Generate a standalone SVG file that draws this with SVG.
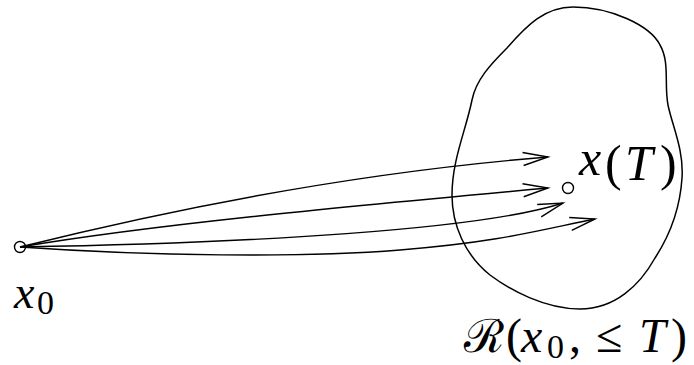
<svg xmlns="http://www.w3.org/2000/svg" width="694" height="365" viewBox="0 0 694 365">
<style>
.ln{fill:none;stroke:#000;stroke-width:1.4}
.blob{fill:none;stroke:#000;stroke-width:1.5}
.pt{fill:none;stroke:#000;stroke-width:1.4}
.t{font-family:"Liberation Serif","Times New Roman",serif;fill:#000}
.i{font-style:italic}
</style>
<defs>
<marker id="ah" markerUnits="userSpaceOnUse" markerWidth="30" markerHeight="16" refX="25" refY="8" orient="auto" overflow="visible">
<path d="M0,1.5 L25,8 L0,14.5" fill="none" stroke="#000" stroke-width="1.4"/>
</marker>
</defs>
<rect width="694" height="365" fill="#fff"/>
<g id="reachable-set">
<path class="blob" d="M573,7 C610,7 650,25 660,45 C670,62 664,85 668,105 C672,125 684,150 682,178 C680,210 670,235 655,258 C640,285 615,309 580,309 C545,309 510,290 490,275 C465,255 452,225 452,195 C452,160 466,130 472,100 C476,80 490,65 507,48 C527,25 545,7 573,7 Z"/>
</g>
<g id="connectors">
<path class="ln" marker-end="url(#ah)" d="M20,247 Q301,177 548,157"/>
<path class="ln" marker-end="url(#ah)" d="M20,247 C150,225 330,208 548,188"/>
<path class="ln" marker-end="url(#ah)" d="M20,247 C250,243 480,230 563,203"/>
<path class="ln" marker-end="url(#ah)" d="M20,247 C150,256 300,258 400,250 S540,230 595,219"/>
</g>
<g id="x0">
<circle class="pt" cx="20" cy="247" r="5.5"/>
<text class="t i" x="14" y="308" font-size="46">x</text>
<text class="t" x="37" y="314" font-size="34">0</text>
</g>
<g id="xT">
<circle class="pt" cx="568" cy="188" r="5.5"/>
<text class="t i" x="579" y="175" font-size="50">x</text>
<text class="t" x="605" y="180" font-size="50">(</text>
<text class="t i" x="625" y="180" font-size="50">T</text>
<text class="t" x="660" y="180" font-size="50">)</text>
</g>
<g id="R-label">
<text class="t" x="464" y="352" font-size="46" font-family="DejaVu Serif, serif">ℛ</text>
<text class="t" x="506" y="352" font-size="48">(</text>
<text class="t i" x="521" y="352" font-size="48">x</text>
<text class="t" x="547" y="358" font-size="34">0</text>
<text class="t" x="569" y="352" font-size="48">,</text>
<text class="t" x="596" y="352" font-size="48">≤</text>
<text class="t i" x="639" y="352" font-size="48">T</text>
<text class="t" x="671" y="352" font-size="48">)</text>
</g>
</svg>
